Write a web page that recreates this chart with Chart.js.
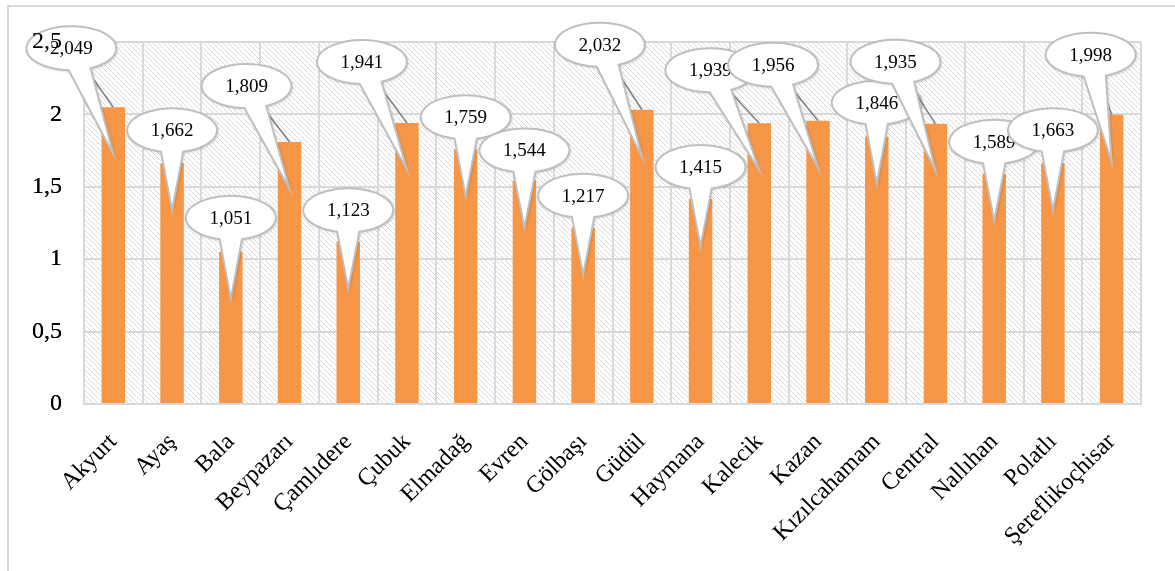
<!DOCTYPE html>
<html>
<head>
<meta charset="utf-8">
<script src="https://cdn.jsdelivr.net/npm/chart.js@4/dist/chart.umd.min.js"></script>
<style>
  body { margin: 0; background: #fff; }
  canvas { display: block; }
</style>
</head>
<body>
<canvas id="chart" width="1175" height="571"></canvas>
<script>
// districts and values
const districts = ['Akyurt', 'Ayaş', 'Bala', 'Beypazarı', 'Çamlıdere', 'Çubuk', 'Elmadağ', 'Evren', 'Gölbaşı',
  'Güdül', 'Haymana', 'Kalecik', 'Kazan', 'Kızılcahamam', 'Central', 'Nallıhan', 'Polatlı', 'Şereflikoçhisar'];
const values = [2.049, 1.662, 1.051, 1.809, 1.123, 1.941, 1.759, 1.544, 1.217,
  2.032, 1.415, 1.939, 1.956, 1.846, 1.935, 1.589, 1.663, 1.998];
const yTicks = [0, 0.5, 1, 1.5, 2, 2.5];

// where each callout bubble sits, relative to the top of its bar (px)
const calloutOffsets = [[-42, -59], [0, -33], [0, -34], [-43, -56], [0, -31], [-45, -61], [0, -32], [0, -30], [0, -32],
  [-42, -65], [0, -32], [-49, -53], [-45, -56], [0, -34], [-40, -62], [0, -32], [0, -33], [-21, -60]];

const fmt = v => String(v).replace('.', ',');
const fmtLabel = v => v.toFixed(3).replace('.', ',');

// hatched background tile
function hatchPattern(ctx) {
    const c = document.createElement('canvas');
    c.width = 5; c.height = 5;
    const g = c.getContext('2d');
    g.fillStyle = '#ffffff';
    g.fillRect(0, 0, 5, 5);
    g.strokeStyle = '#dadada';
    g.lineWidth = 1;
    g.beginPath();
    g.moveTo(-1, -1); g.lineTo(6, 6);
    g.moveTo(-1, 4); g.lineTo(1, 6);
    g.moveTo(4, -1); g.lineTo(6, 1);
    g.stroke();
    return ctx.createPattern(c, 'repeat');
}

const backgroundPlugin = {
    id: 'background',
    beforeDraw(chart) {
        const { ctx, chartArea: a } = chart;
        ctx.save();
        ctx.fillStyle = '#d9d9d9';
        ctx.fillRect(7, 5, chart.width, 2);
        ctx.fillRect(7, 5, 2, chart.height);
        ctx.fillStyle = hatchPattern(ctx);
        ctx.fillRect(a.left, a.top, a.right - a.left, a.bottom - a.top);
        ctx.restore();
    }
};

const calloutPlugin = {
    id: 'callouts',
    afterDatasetsDraw(chart) {
        const ctx = chart.ctx;
        const meta = chart.getDatasetMeta(0);
        const rx = 45, ry = 22, spread = 0.25, depth = 47;
        meta.data.forEach((bar, i) => {
            const bx = bar.x, by = bar.y;
            const cx = bx + calloutOffsets[i][0];
            const cy = by + calloutOffsets[i][1];
            const tx = bx, ty = by + depth;
            ctx.save();
            // leader line to bar top
            ctx.strokeStyle = '#7f7f7f';
            ctx.lineWidth = 1.5;
            ctx.beginPath();
            ctx.moveTo(cx, cy);
            ctx.lineTo(bx, by);
            ctx.stroke();
            // bubble with tail
            const t0 = Math.atan2((ty - cy) / ry, (tx - cx) / rx);
            ctx.beginPath();
            ctx.ellipse(cx, cy, rx, ry, 0, t0 + spread, t0 - spread + Math.PI * 2);
            ctx.lineTo(tx, ty);
            ctx.closePath();
            ctx.shadowColor = 'rgba(0,0,0,0.25)';
            ctx.shadowBlur = 3;
            ctx.shadowOffsetX = 1;
            ctx.shadowOffsetY = 1;
            ctx.fillStyle = '#ffffff';
            ctx.fill();
            ctx.shadowColor = 'transparent';
            ctx.strokeStyle = '#bfbfbf';
            ctx.lineWidth = 2;
            ctx.stroke();
            // text
            ctx.fillStyle = '#000';
            ctx.font = '19px "Liberation Serif", "Times New Roman", serif';
            ctx.textAlign = 'center';
            ctx.textBaseline = 'middle';
            ctx.fillText(fmtLabel(values[i]), cx, cy + 1);
            ctx.restore();
        });
        // y labels sit on top of the bubbles
        chart.scales.y.drawLabels(chart.chartArea);
    }
};

new Chart(document.getElementById('chart'), {
    type: 'bar',
    data: {
        labels: districts,
        datasets: [{
            data: values,
            backgroundColor: '#f79646',
            borderWidth: 0,
            categoryPercentage: 1,
            barPercentage: 0.4
        }]
    },
    options: {
        responsive: false,
        animation: false,
        devicePixelRatio: 1,
        layout: { padding: { top: 42, right: 34, left: 0, bottom: 0 } },
        plugins: { legend: { display: false }, tooltip: { enabled: false } },
        scales: {
            x: {
                afterFit: s => { s.height = 167; },
                grid: { color: '#d9d9d9', lineWidth: 2, drawTicks: false, offset: true },
                border: { color: '#d9d9d9', width: 2 },
                ticks: {
                    color: '#000',
                    font: { family: '"Liberation Serif", "Times New Roman", serif', size: 24 },
                    minRotation: 45,
                    maxRotation: 45,
                    autoSkip: false,
                    padding: 24
                }
            },
            y: {
                min: 0,
                max: 2.5,
                afterFit: s => { s.width = 84; },
                afterBuildTicks: s => { s.ticks = yTicks.map(v => ({ value: v })); },
                grid: { color: '#d9d9d9', lineWidth: 2, drawTicks: false },
                border: { display: false },
                ticks: {
                    color: '#000',
                    font: { family: '"Liberation Serif", "Times New Roman", serif', size: 24 },
                    padding: 22,
                    callback: v => fmt(v)
                }
            }
        }
    },
    plugins: [backgroundPlugin, calloutPlugin]
});
</script>
</body>
</html>
